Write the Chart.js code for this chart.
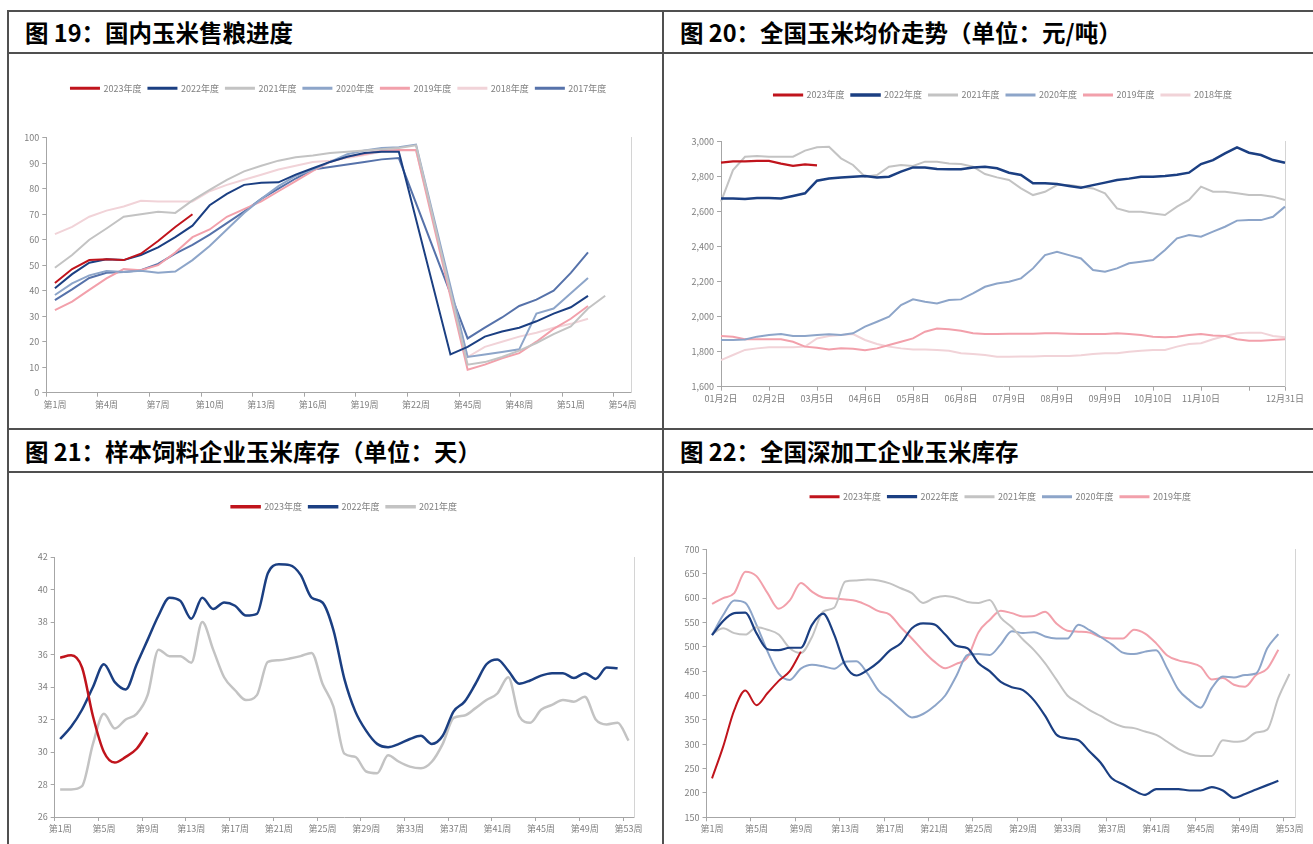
<!DOCTYPE html>
<html lang="zh-CN">
<head>
<meta charset="utf-8">
<title>玉米市场图表</title>
<script src="https://cdn.jsdelivr.net/npm/chart.js@4.4.0/dist/chart.umd.min.js"></script>
<style>
  html, body { margin: 0; padding: 0; background: #fff; }
  #page { position: relative; width: 1313px; height: 844px; overflow: hidden; background: #fff; }
  .hl { position: absolute; left: 7px; right: 0; height: 2px; background: #505050; }
  .vl { position: absolute; top: 10px; bottom: 0; width: 2px; background: #505050; }
  .head {
    position: absolute; height: 42px; line-height: 42px; white-space: nowrap;
    font-family: 'Noto Sans CJK SC', sans-serif; font-weight: 700; font-size: 23.5px; color: #000;
  }
  .cell { position: absolute; }
  .cell canvas { display: block; }
</style>
</head>
<body>
<div id="page">
  <div class="hl" style="top:10px"></div>
  <div class="hl" style="top:52px"></div>
  <div class="hl" style="top:428px"></div>
  <div class="hl" style="top:471px"></div>
  <div class="vl" style="left:7px"></div>
  <div class="vl" style="left:662px"></div>

  <div class="head" style="left:25px; top:11px">图 19：国内玉米售粮进度</div>
  <div class="head" style="left:680px; top:11px">图 20：全国玉米均价走势（单位：元/吨）</div>
  <div class="head" style="left:25px; top:430px">图 21：样本饲料企业玉米库存（单位：天）</div>
  <div class="head" style="left:680px; top:430px">图 22：全国深加工企业玉米库存</div>

  <div class="cell" style="left:9px; top:54px"><canvas id="c19" width="653" height="374"></canvas></div>
  <div class="cell" style="left:664px; top:54px"><canvas id="c20" width="649" height="374"></canvas></div>
  <div class="cell" style="left:9px; top:473px"><canvas id="c21" width="653" height="371"></canvas></div>
  <div class="cell" style="left:664px; top:473px"><canvas id="c22" width="649" height="371"></canvas></div>
</div>

<script>
// ---- colours ----
const RED = '#c0141c';
const NAVY = '#1b3f82';
const GREY = '#c3c3c3';
const BLUE20 = '#8da5c9';
const PINK19 = '#f2a0ab';
const PINK18 = '#f1d3d8';
const BLUE17 = '#5672aa';
const AXIS = '#a6a6a6';
const TEXT = '#7f7f7f';
const NONE = 'rgba(0,0,0,0)';
const FONT = "'Liberation Sans Narrow', 'Noto Sans CJK SC', sans-serif";

// ---- 图19 售粮进度 (%) ----
const weeks19 = ['第1周','第2周','第3周','第4周','第5周','第6周','第7周','第8周','第9周','第10周',
  '第11周','第12周','第13周','第14周','第15周','第16周','第17周','第18周','第19周','第20周',
  '第21周','第22周','第43周','第44周','第45周','第46周','第47周','第48周','第49周','第50周',
  '第51周','第52周','第53周','第54周'];
const sale2023 = [43, 48.5, 52, 52.3, 52, 54.5, 59.5, 65, 70, null, null, null, null, null, null, null, null,
  null, null, null, null, null, null, null, null, null, null, null, null, null, null, null, null, null];
const sale2022 = [41, 46.5, 51, 52.3, 52, 54, 57, 61, 65.5, 73.5, 78, 81.5, 82.3, 82.5, 85.5, 88, 90.5,
  92.5, 94, 94.5, 94.5, null, null, 15, 18, 22, 24, 25.5, 28, 31, 33.5, 38, null, null];
const sale2021 = [49, 54, 60, 64.4, 69, 70, 71, 70.5, 75.4, 79.5, 83.5, 86.8, 89, 91, 92.3, 93, 94,
  94.5, 95, 95.5, 96, 97, null, null, 11, 12, 14, 16.5, 19.5, 23, 26, 33, 38, null];
const sale2020 = [38.3, 42.9, 46, 47.7, 47.3, 47.8, 47, 47.5, 52, 57.5, 64, 70.5, 76, 81, 85, 87.5,
  90.5, 93.5, 95, 96, 96.3, 97.3, null, null, 14, 15, 16, 17, 31, 33, 39, 45, null, null];
const sale2019 = [32.4, 35.7, 40.3, 44.8, 48.5, 48, 50, 55, 61, 64, 69, 72, 75, 79, 83, 87, 90.5,
  92.5, 93.6, 95, 95.2, 95.2, null, null, 9, 11, 13.5, 15.5, 20, 25, 29, 34, null, null];
const sale2018 = [62.2, 65, 69, 71.4, 73, 75.3, 75, 75, 75, 79, 81.5, 83.5, 85.5, 87.5, 89, 90.5,
  91, 92, 93.2, 94.5, 95, 95, null, null, 14, 18, 20, 22, 23.5, 25.5, 27, 29, null, null];
const sale2017 = [36.3, 40.5, 45, 47, 47.3, 48, 50.5, 54.5, 58, 62, 66.5, 71, 76, 80, 84, 87.5,
  88.5, 89.5, 90.5, 91.5, 92, null, null, null, 21.3, 25.5, 29.5, 34, 36.5, 40, 47, 55, null, null];

// ---- 图20 均价 (元/吨) ----
const dates20 = ['01月2日','','','','02月2日','','','','03月5日','','','','04月6日','','','',
  '05月8日','','','','06月8日','','','','07月9日','','','','08月9日','','','',
  '09月9日','','','','10月10日','','','','11月10日','','','','','','','12月31日'];
const price2023 = [2880, 2888, 2888, 2890, 2890, 2875, 2862, 2870, 2865, null, null, null, null, null,
  null, null, null, null, null, null, null, null, null, null, null, null, null, null, null, null, null,
  null, null, null, null, null, null, null, null, null, null, null, null, null, null, null, null, null];
const price2022 = [2676, 2676, 2672, 2678, 2678, 2676, 2690, 2705, 2777, 2790, 2796, 2800, 2804, 2796,
  2800, 2829, 2853, 2853, 2844, 2842, 2842, 2853, 2857, 2848, 2823, 2810, 2762, 2762, 2758, 2747,
  2737, 2752, 2766, 2781, 2789, 2800, 2800, 2804, 2811, 2823, 2872, 2895, 2933, 2968, 2937, 2924,
  2895, 2880];
const price2021 = [2657, 2838, 2914, 2918, 2914, 2914, 2914, 2949, 2968, 2971, 2905, 2867, 2800, 2810,
  2857, 2867, 2861, 2886, 2886, 2876, 2872, 2857, 2815, 2796, 2781, 2733, 2695, 2714, 2752, 2752,
  2743, 2733, 2705, 2619, 2600, 2600, 2590, 2581, 2629, 2667, 2743, 2714, 2714, 2705, 2695, 2695,
  2686, 2667];
const price2020 = [1867, 1867, 1870, 1886, 1895, 1901, 1890, 1890, 1895, 1899, 1895, 1905, 1943, 1971,
  2000, 2067, 2099, 2086, 2076, 2095, 2099, 2133, 2171, 2190, 2200, 2219, 2276, 2352, 2371, 2352,
  2333, 2267, 2257, 2276, 2305, 2314, 2324, 2381, 2448, 2467, 2457, 2486, 2514, 2549, 2552, 2552,
  2571, 2629];
const price2019 = [1890, 1886, 1871, 1871, 1871, 1871, 1857, 1829, 1823, 1813, 1819, 1817, 1809, 1819,
  1838, 1857, 1876, 1914, 1933, 1928, 1920, 1905, 1901, 1901, 1903, 1903, 1903, 1905, 1905, 1903,
  1901, 1901, 1901, 1905, 1901, 1895, 1886, 1882, 1886, 1895, 1901, 1893, 1890, 1871, 1863, 1863,
  1867, 1871];
const price2018 = [1752, 1781, 1810, 1819, 1825, 1825, 1825, 1829, 1876, 1890, 1895, 1901, 1867, 1844,
  1829, 1819, 1813, 1813, 1810, 1806, 1791, 1787, 1781, 1771, 1771, 1773, 1773, 1775, 1775, 1775,
  1780, 1787, 1791, 1791, 1800, 1806, 1810, 1810, 1829, 1844, 1848, 1871, 1890, 1905, 1909, 1909,
  1890, 1882];

// ---- 图21 / 图22 周度 ----
const weeks53 = [];
for (let w = 1; w <= 53; w++) weeks53.push('第' + w + '周');

const days2023 = [35.8, 35.95, 35.2, 32.2, 30.0, 29.35, 29.7, 30.2, 31.2];
const days2022 = [30.8, 31.55, 32.6, 34.0, 35.4, 34.3, 33.85, 35.4, 36.9, 38.4, 39.5, 39.3, 38.2, 39.5,
  38.8, 39.2, 39.0, 38.4, 38.5, 41.0, 41.55, 41.5, 40.9, 39.5, 39.2, 37.5, 34.5, 32.5, 31.3, 30.5,
  30.3, 30.5, 30.8, 31.0, 30.5, 31.0, 32.5, 33.1, 34.2, 35.4, 35.7, 35.0, 34.2, 34.4, 34.7, 34.85,
  34.85, 34.55, 34.85, 34.5, 35.2, 35.15];
const days2021 = [27.7, 27.7, 27.9, 30.5, 32.35, 31.45, 32.0, 32.35, 33.5, 36.3, 35.9, 35.9, 35.5, 38.0,
  36.3, 34.6, 33.8, 33.2, 33.5, 35.55, 35.65, 35.75, 35.9, 36.1, 34.2, 32.8, 29.9, 29.7, 28.8, 28.7,
  29.8, 29.4, 29.1, 29.0, 29.4, 30.5, 32.1, 32.25, 32.7, 33.2, 33.6, 34.6, 32.2, 31.8, 32.6, 32.9,
  33.2, 33.1, 33.4, 32.0, 31.7, 31.8, 30.7];

const stock2023 = [230, 295, 370, 410, 380, 405, 430, 450, 490];
const stock2022 = [524, 553, 569, 570, 528, 495, 493, 498, 498, 545, 568, 525, 462, 441, 452, 469, 492,
  507, 538, 548, 546, 525, 502, 497, 466, 450, 428, 417, 411, 390, 358, 320, 312, 308, 285, 262, 230,
  218, 205, 196, 208, 208, 208, 205, 205, 212, 205, 190, 198, 207, 216, 225];
const stock2021 = [526, 538, 528, 525, 540, 535, 525, 497, 487, 520, 572, 580, 634, 636, 638, 636, 630,
  620, 610, 590, 600, 604, 600, 592, 590, 596, 560, 540, 515, 493, 466, 433, 400, 385, 370, 358, 345,
  336, 333, 326, 319, 305, 290, 280, 276, 276, 308, 305, 308, 324, 330, 395, 444];
const stock2020 = [524, 565, 595, 590, 545, 490, 445, 432, 455, 463, 460, 455, 469, 470, 445, 410, 392,
  372, 355, 362, 378, 400, 440, 483, 485, 483, 505, 532, 528, 530, 521, 517, 517, 545, 534, 520, 505,
  488, 485, 490, 493, 455, 412, 390, 375, 415, 439, 437, 442, 445, 497, 526];
const stock2019 = [588, 600, 610, 654, 645, 610, 578, 595, 631, 613, 601, 599, 597, 594, 585, 573, 566,
  540, 517, 492, 470, 456, 465, 478, 530, 555, 574, 569, 562, 563, 572, 548, 533, 531, 529, 520, 517,
  517, 535, 527, 507, 482, 472, 467, 459, 433, 436, 422, 418, 442, 455, 494];

// ---- helpers ----
function line(label, data, color, width) {
  return {
    label: label, data: data, yAxisID: 'y',
    borderColor: color, backgroundColor: color, borderWidth: width,
    pointRadius: 0, fill: false
  };
}

// stretch the legend box so the plot starts where the reference plot starts
function legendSpace(height) {
  return {
    id: 'legendSpace',
    beforeInit(chart) {
      const fit = chart.legend.fit;
      chart.legend.fit = function () {
        fit.call(this);
        this.height = height;
      };
    }
  };
}

function buildChart(id, o) {
  const ctx = document.getElementById(id).getContext('2d');
  const tickFont = { family: FONT, size: 9 };
  return new Chart(ctx, {
    type: 'line',
    data: { labels: o.labels, datasets: o.datasets },
    options: {
      responsive: false,
      animation: false,
      spanGaps: o.spanGaps || false,
      layout: { padding: { top: o.padTop, right: o.padRight, left: 0, bottom: 0 } },
      elements: {
        line: o.smooth ? { cubicInterpolationMode: 'monotone' } : { tension: 0 }
      },
      plugins: {
        legend: {
          position: 'top',
          fullSize: false,
          labels: {
            boxWidth: 28, boxHeight: 1, padding: 7, color: TEXT,
            font: { family: FONT, size: 9 }
          }
        },
        tooltip: { enabled: false }
      },
      scales: {
        x: {
          offset: o.offset,
          grid: {
            offset: o.offset, drawOnChartArea: false, tickLength: 4,
            color: o.tickColor
          },
          border: { color: AXIS },
          ticks: {
            autoSkip: false, maxRotation: 0, minRotation: 0, padding: 2,
            color: TEXT, font: tickFont,
            callback: o.xLabel
          },
          afterFit: function (s) { s.height = o.xHeight; }
        },
        y: {
          min: o.yMin, max: o.yMax,
          grid: { drawOnChartArea: false, tickLength: 4, color: AXIS },
          border: { color: AXIS },
          ticks: {
            stepSize: o.yStep, padding: 3, color: TEXT, font: tickFont,
            callback: o.yLabel || function (v) { return v; }
          },
          afterFit: function (s) { s.width = o.yWidth; }
        },
        yr: {
          position: 'right',
          ticks: { display: false },
          grid: { display: false },
          border: { color: '#d4d4d4' },
          afterFit: function (s) { s.width = 0; }
        }
      }
    },
    plugins: [legendSpace(o.legendH)]
  });
}

function everyN(n, labels) {
  return function (value, index) { return index % n === 0 ? labels[index] : ''; };
}
function tickEvery(n) {
  return function (c) { return c.index % n === 0 ? AXIS : NONE; };
}

// ---- 图19 ----
buildChart('c19', {
  labels: weeks19,
  datasets: [
    line('2023年度', sale2023, RED, 2),
    line('2022年度', sale2022, NAVY, 2),
    line('2021年度', sale2021, GREY, 2),
    line('2020年度', sale2020, BLUE20, 2),
    line('2019年度', sale2019, PINK19, 2),
    line('2018年度', sale2018, PINK18, 2),
    line('2017年度', sale2017, BLUE17, 2)
  ],
  spanGaps: true, smooth: false, offset: true,
  padTop: 22.8, padRight: 31, legendH: 60.9, xHeight: 35.3, yWidth: 37.3,
  yMin: 0, yMax: 100, yStep: 10,
  tickColor: tickEvery(3), xLabel: everyN(3, weeks19)
});

// ---- 图20 ----
buildChart('c20', {
  labels: dates20,
  datasets: [
    line('2023年度', price2023, RED, 2.2),
    line('2022年度', price2022, NAVY, 2.5),
    line('2021年度', price2021, GREY, 2),
    line('2020年度', price2020, BLUE20, 2),
    line('2019年度', price2019, PINK19, 2),
    line('2018年度', price2018, PINK18, 2)
  ],
  smooth: false, offset: false,
  padTop: 29.5, padRight: 28, legendH: 58.2, xHeight: 41.3, yWidth: 57,
  yMin: 1600, yMax: 3000, yStep: 200,
  yLabel: function (v) { return v.toLocaleString('en-US'); },
  tickColor: function (c) { return (c.index % 4 === 0 || c.index === dates20.length - 1) ? AXIS : NONE; },
  xLabel: function (value, index) { return dates20[index]; }
});

// ---- 图21 ----
buildChart('c21', {
  labels: weeks53,
  datasets: [
    line('2023年度', days2023, RED, 2.5),
    line('2022年度', days2022, NAVY, 2.5),
    line('2021年度', days2021, GREY, 2.5)
  ],
  smooth: true, offset: true,
  padTop: 22.2, padRight: 28, legendH: 61.8, xHeight: 27, yWidth: 45.7,
  yMin: 26, yMax: 42, yStep: 2,
  tickColor: tickEvery(4), xLabel: everyN(4, weeks53)
});

// ---- 图22 ----
buildChart('c22', {
  labels: weeks53,
  datasets: [
    line('2023年度', stock2023, RED, 2),
    line('2022年度', stock2022, NAVY, 2.2),
    line('2021年度', stock2021, GREY, 2),
    line('2020年度', stock2020, BLUE20, 2),
    line('2019年度', stock2019, PINK19, 2)
  ],
  smooth: true, offset: true,
  padTop: 12.2, padRight: 18, legendH: 64.1, xHeight: 26.7, yWidth: 42.5,
  yMin: 150, yMax: 700, yStep: 50,
  tickColor: tickEvery(4), xLabel: everyN(4, weeks53)
});
</script>
</body>
</html>
